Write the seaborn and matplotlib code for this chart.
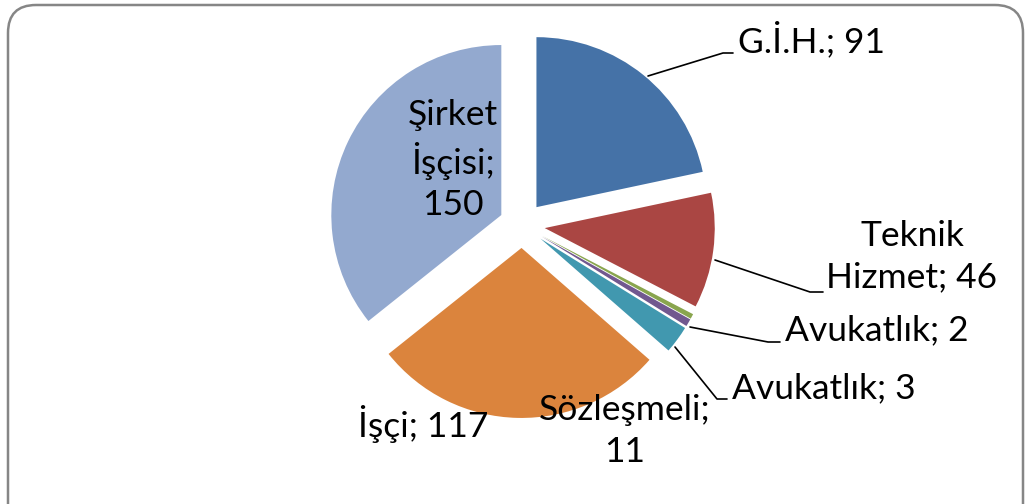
import matplotlib
matplotlib.use("Agg")
import matplotlib.pyplot as plt
from matplotlib.patches import FancyBboxPatch
import seaborn as sns

# data
categories = ['G.İ.H.', 'Teknik\nHizmet', 'Avukatlık', 'Avukatlık', 'Sözleşmeli;\n', 'İşçi', 'Şirket\nİşçisi;\n']
values = [91, 46, 2, 3, 11, 117, 150]
colors = ['#4572A7', '#AA4643', '#89A54E', '#71588F', '#4198AF', '#DB843D', '#93A9CF']

sns.set_theme(style="white")
plt.rcParams['font.family'] = ['Lato', 'DejaVu Sans']

W, H = 1026, 504
fig = plt.figure(figsize=(W / 100, H / 100), dpi=100)
ax = fig.add_axes([0, 0, 1, 1])

def py(y):
    # pixel row -> data y
    return H - y

radius = 170
ax.pie(values, colors=colors, startangle=90, counterclock=False,
       center=(522, py(225)), radius=radius,
       explode=[0.135 * radius] * len(values),
       wedgeprops=dict(linewidth=0), frame=True)
ax.set_xlim(0, W)
ax.set_ylim(0, H)
ax.set_aspect('equal')
ax.axis('off')

# label layout (x, y, ha) and leader lines
fs = 25.5
lab_text = [f'{c}; {v}' if not c.endswith('\n') else f'{c}{v}' for c, v in zip(categories, values)]
lab_pos = [(738, 40, 'left'), (912, 257, 'center'), (785, 330, 'left'),
           (732, 388, 'left'), (625, 431, 'center'), (358, 424, 'left'),
           (453, 160, 'center')]
leaders = {
    0: [(648, 76), (723, 53), (733, 53)],
    1: [(715, 260), (810, 292), (823, 292)],
    2: [(690, 327), (768, 342), (780, 342)],
    3: [(675, 347), (717, 399), (727, 399)],
}
for t, (x, y, ha) in zip(lab_text, lab_pos):
    ax.text(x, py(y), t, ha=ha, va='center', fontsize=fs, color='black',
            linespacing=1.35, multialignment='center')
for pts in leaders.values():
    ax.plot([p[0] for p in pts], [py(p[1]) for p in pts], color='black', lw=1.2)

# rounded chart border (bottom runs off the picture)
frame = FancyBboxPatch((8, py(580)), 1015, 575, boxstyle='round,pad=0,rounding_size=28',
                       fill=False, edgecolor='#868686', lw=1.8, transform=ax.transData,
                       clip_on=False)
ax.add_patch(frame)

fig.savefig('out.png', dpi=100)
